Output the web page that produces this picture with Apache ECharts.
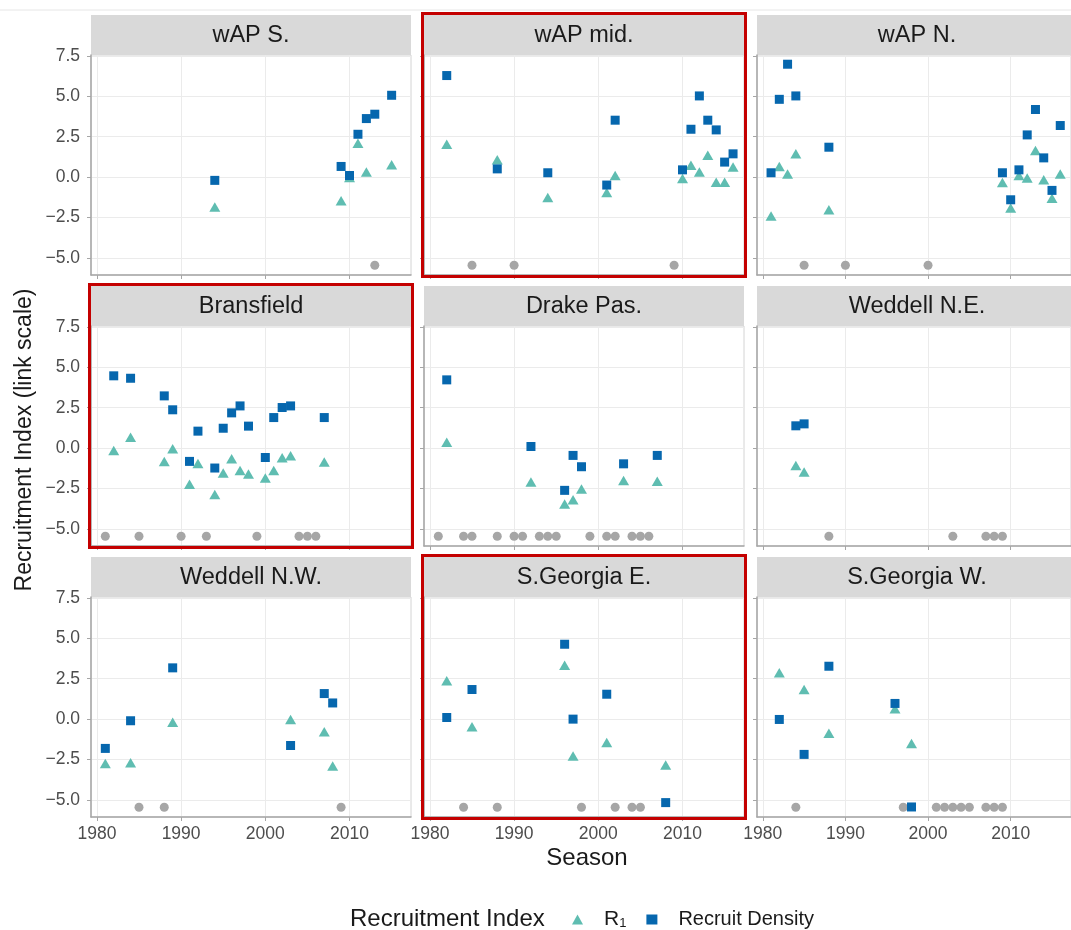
<!DOCTYPE html>
<html><head><meta charset="utf-8">
<script src="https://cdn.jsdelivr.net/npm/echarts@6/dist/echarts.min.js"></script>
<style>html,body{margin:0;padding:0;background:#fff}#c{width:1071px;height:930px}</style>
</head><body><div id="c"></div><script>
// ---------- data ----------
const PANEL_NAMES = ['wAP S.', 'wAP mid.', 'wAP N.', 'Bransfield', 'Drake Pas.', 'Weddell N.E.', 'Weddell N.W.', 'S.Georgia E.', 'S.Georgia W.'];
const HIGHLIGHTED = ['wAP mid.', 'Bransfield', 'S.Georgia E.'];
const X_TICKS = [1980, 1990, 2000, 2010];
const Y_TICKS = [-5, -2.5, 0, 2.5, 5, 7.5];
const NONE_LEVEL = -5.45;

// R1 index [season, value]
const r1_wapS = [[1994,-1.85],[2009,-1.46],[2010,-0.02],[2011,2.1],[2012,0.31],[2015,0.76]];
const r1_wapMid = [[1982,2.04],[1988,1.07],[1994,-1.26],[2001,-0.95],[2002,0.1],[2010,-0.08],[2011,0.74],[2012,0.31],[2013,1.36],[2014,-0.31],[2015,-0.31],[2016,0.62]];
const r1_wapN = [[1981,-2.4],[1982,0.66],[1983,0.2],[1984,1.44],[1988,-2.02],[2009,-0.33],[2010,-1.91],[2011,0.1],[2012,-0.06],[2013,1.65],[2014,-0.16],[2015,-1.3],[2016,0.2]];
const r1_bransfield = [[1982,-0.14],[1984,0.68],[1988,-0.82],[1989,-0.04],[1991,-2.24],[1992,-0.95],[1994,-2.86],[1995,-1.54],[1996,-0.66],[1997,-1.38],[1998,-1.6],[2000,-1.85],[2001,-1.38],[2002,-0.6],[2003,-0.47],[2007,-0.86]];
const r1_drake = [[1982,0.37],[1992,-2.1],[1996,-3.46],[1997,-3.19],[1998,-2.53],[2003,-2.0],[2007,-2.04]];
const r1_weddellNE = [[1984,-1.07],[1985,-1.48]];
const r1_weddellNW = [[1981,-2.74],[1984,-2.7],[1989,-0.19],[2003,-0.02],[2007,-0.78],[2008,-2.9]];
const r1_sgE = [[1982,2.37],[1985,-0.47],[1996,3.33],[1997,-2.28],[2001,-1.44],[2008,-2.84]];
const r1_sgW = [[1982,2.86],[1985,1.83],[1988,-0.88],[1996,0.64],[1998,-1.5]];

// Recruit density [season, value]
const dens_wapS = [[1994,-0.2],[2009,0.66],[2010,0.1],[2011,2.65],[2012,3.62],[2013,3.89],[2015,5.06]];
const dens_wapMid = [[1982,6.28],[1988,0.51],[1994,0.27],[2001,-0.49],[2002,3.52],[2010,0.45],[2011,2.96],[2012,5.02],[2013,3.52],[2014,2.92],[2015,0.93],[2016,1.44]];
const dens_wapN = [[1981,0.27],[1982,4.81],[1983,6.98],[1984,5.02],[1988,1.85],[2009,0.27],[2010,-1.4],[2011,0.45],[2012,2.61],[2013,4.18],[2014,1.19],[2015,-0.82],[2016,3.19]];
const dens_bransfield = [[1982,4.47],[1984,4.32],[1988,3.23],[1989,2.37],[1991,-0.82],[1992,1.05],[1994,-1.23],[1995,1.23],[1996,2.18],[1997,2.61],[1998,1.36],[2000,-0.58],[2001,1.89],[2002,2.51],[2003,2.61],[2007,1.89]];
const dens_drake = [[1982,4.22],[1992,0.1],[1996,-2.61],[1997,-0.45],[1998,-1.15],[2003,-0.97],[2007,-0.45]];
const dens_weddellNE = [[1984,1.38],[1985,1.5]];
const dens_weddellNW = [[1981,-1.81],[1984,-0.1],[1989,3.17],[2003,-1.63],[2007,1.58],[2008,1.0]];
const dens_sgE = [[1982,0.1],[1985,1.83],[1996,4.63],[1997,0.0],[2001,1.54],[2008,-5.16]];
const dens_sgW = [[1982,-0.02],[1985,-2.18],[1988,3.27],[1996,0.97],[1998,-5.43]];

// Seasons with no index (grey points)
const none_wapS = [2013];
const none_wapMid = [1985,1990,2009];
const none_wapN = [1985,1990,2000];
const none_bransfield = [1981,1985,1990,1993,1999,2004,2005,2006];
const none_drake = [1981,1984,1985,1988,1990,1991,1993,1994,1995,1999,2001,2002,2004,2005,2006];
const none_weddellNE = [1988,2003,2007,2008,2009];
const none_weddellNW = [1985,1988,2009];
const none_sgE = [1984,1988,1998,2002,2004,2005];
const none_sgW = [1984,1997,2001,2002,2003,2004,2005,2007,2008,2009];

const R1 = [r1_wapS, r1_wapMid, r1_wapN, r1_bransfield, r1_drake, r1_weddellNE, r1_weddellNW, r1_sgE, r1_sgW];
const DENS = [dens_wapS, dens_wapMid, dens_wapN, dens_bransfield, dens_drake, dens_weddellNE, dens_weddellNW, dens_sgE, dens_sgW];
const NONE = [none_wapS, none_wapMid, none_wapN, none_bransfield, none_drake, none_weddellNE, none_weddellNW, none_sgE, none_sgW];

// ---------- layout ----------
const COL_LEFT = [91, 424, 757];
const ROW_TOP = [55, 326, 597];
const PW = 320, PH = 220, STRIP = 40;
const FONT = 'Liberation Sans, Arial, sans-serif';
const C_R1 = '#5fbdb1', C_DENS = '#0667ae', C_NONE = '#a6a6a6';
const AX = '#a6a6a6';

const grids = [], xAxes = [], yAxes = [], series = [], graphics = [];
const fmtY = v => (v < 0 ? '\u2212' : '') + Math.abs(v).toFixed(1);
const fmtX = v => String(Math.round(v));

PANEL_NAMES.forEach((name, i) => {
  const r = Math.floor(i / 3), c = i % 3;
  const left = COL_LEFT[c], top = ROW_TOP[r];
  grids.push({ left, top, width: PW, height: PH, show: true, borderColor: '#d4d4d4', borderWidth: 1, backgroundColor: '#fff' });
  xAxes.push({
    gridIndex: i, type: 'value', min: 1979.3, max: 2017.3,
    axisLine: { show: true, onZero: false, lineStyle: { color: AX, width: 1.5 } },
    axisTick: { show: true, length: 4, customValues: X_TICKS, lineStyle: { color: AX } },
    axisLabel: { show: r === 2, customValues: X_TICKS, formatter: fmtX, color: '#4d4d4d', fontSize: 17.5, margin: 8, fontFamily: FONT },
    splitLine: { show: true, lineStyle: { color: '#ebebeb', width: 1 } }
  });
  yAxes.push({
    gridIndex: i, type: 'value', min: -6.05, max: 7.55,
    axisLine: { show: true, onZero: false, lineStyle: { color: AX, width: 1.5 } },
    axisTick: { show: true, length: 4, customValues: Y_TICKS, lineStyle: { color: AX } },
    axisLabel: { show: c === 0, customValues: Y_TICKS, formatter: fmtY, color: '#4d4d4d', fontSize: 17.5, margin: 11, fontFamily: FONT },
    splitLine: { show: true, lineStyle: { color: '#ebebeb', width: 1 } }
  });
  series.push({
    type: 'scatter', name: 'none', xAxisIndex: i, yAxisIndex: i, symbol: 'circle', symbolSize: 9,
    itemStyle: { color: C_NONE, opacity: 1 }, data: NONE[i].map(y => [y, NONE_LEVEL]), silent: true
  });
  series.push({
    type: 'scatter', name: 'R₁', xAxisIndex: i, yAxisIndex: i, symbol: 'triangle', symbolSize: [11, 9.5],
    itemStyle: { color: C_R1, opacity: 1 }, data: R1[i], silent: true
  });
  series.push({
    type: 'scatter', name: 'Recruit Density', xAxisIndex: i, yAxisIndex: i, symbol: 'rect', symbolSize: 9,
    itemStyle: { color: C_DENS, opacity: 1 }, data: DENS[i], silent: true
  });
  // strip
  graphics.push({ type: 'rect', shape: { x: left, y: top - STRIP, width: PW, height: STRIP }, style: { fill: '#d9d9d9' }, silent: true });
  graphics.push({ type: 'text', x: left + PW / 2, y: top - STRIP / 2 + 1,
    style: { text: name, fill: '#1a1a1a', font: '23.5px ' + FONT, textAlign: 'center', textVerticalAlign: 'middle' }, silent: true });
  if (HIGHLIGHTED.includes(name)) {
    graphics.push({ type: 'rect', z: 100, shape: { x: left - 1.5, y: top - STRIP - 1.5, width: PW + 3, height: PH + STRIP + 3 },
      style: { fill: 'none', stroke: '#c40000', lineWidth: 3 }, silent: true });
  }
});

graphics.push({ type: 'line', shape: { x1: 0, y1: 10, x2: 1071, y2: 10 }, style: { stroke: '#e6e6e6', lineWidth: 1 }, silent: true });
graphics.push({ type: 'text', x: 25, y: 440, rotation: Math.PI / 2,
  style: { text: 'Recruitment Index (link scale)', fill: '#1a1a1a', font: '23px ' + FONT, textAlign: 'center', textVerticalAlign: 'middle' } });
graphics.push({ type: 'text', x: 587, y: 858,
  style: { text: 'Season', fill: '#1a1a1a', font: '24px ' + FONT, textAlign: 'center', textVerticalAlign: 'middle' } });
graphics.push({ type: 'text', x: 350, y: 919,
  style: { text: 'Recruitment Index', fill: '#1a1a1a', font: '24px ' + FONT, textAlign: 'left', textVerticalAlign: 'middle' } });

const chart = echarts.init(document.getElementById('c'), null, { renderer: 'canvas' });
chart.setOption({
  animation: false,
  backgroundColor: '#fff',
  grid: grids, xAxis: xAxes, yAxis: yAxes, series,
  legend: {
    left: 567, top: 904, itemWidth: 11, itemHeight: 10, itemGap: 20, selectedMode: false,
    data: [{ name: 'R₁', icon: 'triangle' }, { name: 'Recruit Density', icon: 'rect' }],
    formatter: n => n === 'R₁' ? '{g|}{b|R}{s|1}' : '{g|}{t|Recruit Density}',
    textStyle: {
      fontFamily: FONT, color: '#1a1a1a',
      rich: {
        g: { width: 16 },
        b: { fontSize: 21, fontFamily: FONT, color: '#1a1a1a', lineHeight: 24 },
        s: { fontSize: 13, fontFamily: FONT, color: '#1a1a1a', lineHeight: 24, padding: [7, 0, 0, 0] },
        t: { fontSize: 20, fontFamily: FONT, color: '#1a1a1a', lineHeight: 24 }
      }
    }
  },
  graphic: graphics
});
</script></body></html>
